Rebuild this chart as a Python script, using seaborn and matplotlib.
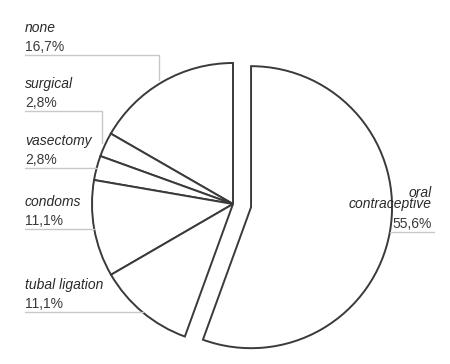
import numpy as np
import matplotlib
matplotlib.use("Agg")
import matplotlib.pyplot as plt
import seaborn as sns

categories = ["none", "surgical", "vasectomy", "condoms", "tubal ligation", "oral contraceptive"]
values = [16.7, 2.8, 2.8, 11.1, 11.1, 55.6]
pct_labels = ["16,7%", "2,8%", "2,8%", "11,1%", "11,1%", "55,6%"]
name_labels = ["none", "surgical", "vasectomy", "condoms", "tubal ligation", "oral\ncontraceptive"]

sns.set_theme(style="white")
plt.rcParams['font.family'] = ['Liberation Sans', 'DejaVu Sans']

W, H = 450, 364
fig = plt.figure(figsize=(W / 100, H / 100), dpi=100)
ax = fig.add_axes([0, 0, 1, 1])

cx, cy, R = 233, 204, 141
explode_frac = 0.13
explode = [0, 0, 0, 0, 0, explode_frac * R]   # matplotlib explode is in data units

# y axis points down (pixel coords), so clockwise in data = counterclockwise on screen
wedges, _ = ax.pie(values, startangle=-90, counterclock=False, explode=explode,
                   center=(cx, cy), radius=R, frame=True,
                   wedgeprops=dict(facecolor="white", edgecolor="#3a3a3a", linewidth=1.4))
ax.set_xlim(0, W)
ax.set_ylim(H, 0)
ax.set_aspect('equal')
ax.axis('off')

line_col = "#c8c8c8"
txt_col = "#2a2a2a"
pct_col = "#3a3a3a"
fs = 10

for i, w in enumerate(wedges):
    mid = np.deg2rad((w.theta1 + w.theta2) / 2)
    wx, wy = w.center
    px = wx + R * np.cos(mid)
    py = wy + R * np.sin(mid)
    if i == len(wedges) - 1:
        ly = py
        ax.plot([px, 434], [ly, ly], color=line_col, lw=1.0)
        ax.text(432, ly - 8, pct_labels[i], ha="right", va="center",
                fontsize=fs, color=pct_col)
        ax.text(432, ly - 33, name_labels[i], ha="right", va="center",
                fontsize=fs, color=txt_col, style="italic", linespacing=0.72)
        continue
    if i in (0, 1):
        ly = {0: 55, 1: 111}[i]
        ax.plot([25, px - 3, px - 3], [ly, ly, py - 2], color=line_col, lw=1.0)
    else:
        ly = py
        ax.plot([25, px], [ly, ly], color=line_col, lw=1.0)
    ax.text(25, ly - 8, pct_labels[i], ha="left", va="center",
            fontsize=fs, color=pct_col)
    ax.text(25, ly - 27, name_labels[i], ha="left", va="center",
            fontsize=fs, color=txt_col, style="italic")

fig.savefig("out.png", dpi=100, facecolor="white")
